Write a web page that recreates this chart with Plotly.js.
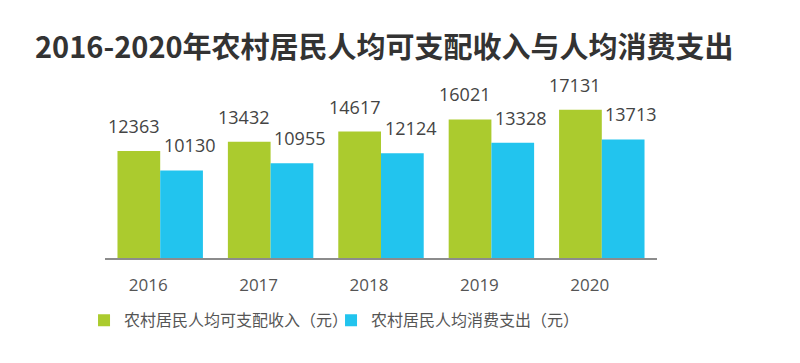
<!DOCTYPE html>
<html>
<head>
<meta charset="utf-8">
<script src="https://cdn.plot.ly/plotly-3.0.1.min.js"></script>
<style>html,body{margin:0;padding:0;background:#fff;}#chart{width:800px;height:363px;}</style>
</head>
<body>
<div id="chart"></div>
<script>
const years = ['2016', '2017', '2018', '2019', '2020'];
const income = [12363, 13432, 14617, 16021, 17131];
const spending = [10130, 10955, 12124, 13328, 13713];
const incomeName = '农村居民人均可支配收入（元）';
const spendingName = '农村居民人均消费支出（元）';
const titleText = '2016-2020年农村居民人均可支配收入与人均消费支出';

const green = '#ABCB2E';
const cyan = '#22C4EE';
const cjk = '"Noto Sans CJK SC", "Open Sans", sans-serif';
const num = '"Open Sans", "Noto Sans", sans-serif';

const traces = [
  {type: 'bar', x: years, y: income, name: incomeName, marker: {color: green}, hoverinfo: 'skip'},
  {type: 'bar', x: years, y: spending, name: spendingName, marker: {color: cyan}, hoverinfo: 'skip'}
];

// On a category axis, annotation x is given as the category index
const annotations = [];
years.forEach((yr, i) => {
  annotations.push({x: i, y: income[i], xref: 'x', yref: 'y', text: String(income[i]),
    showarrow: false, yanchor: 'bottom', xanchor: 'center', xshift: -27, yshift: 11,
    font: {family: num, size: 18, color: '#444444'}});
  annotations.push({x: i, y: spending[i], xref: 'x', yref: 'y', text: String(spending[i]),
    showarrow: false, yanchor: 'bottom', xanchor: 'center', xshift: 29, yshift: 11,
    font: {family: num, size: 18, color: '#444444'}});
});

const layout = {
  width: 800, height: 363,
  margin: {l: 105, r: 143, t: 85, b: 105},
  paper_bgcolor: '#ffffff', plot_bgcolor: '#ffffff',
  title: {text: '<b>' + titleText + '</b>', x: 35/800, xanchor: 'left', y: 1 - 48/363, yanchor: 'middle',
    font: {family: cjk, size: 29, color: '#333333'}},
  barmode: 'group',
  bargap: 0.226,
  bargroupgap: 0,
  xaxis: {type: 'category', range: [-0.5, 4.5], showgrid: false, zeroline: false,
    showline: true, linecolor: '#8c8c8c', linewidth: 1.5, ticks: '',
    ticklabelstandoff: 11, ticklabelshift: -12,
    tickfont: {family: num, size: 17, color: '#555555'}},
  yaxis: {range: [0, 20000], showticklabels: false, showgrid: false, zeroline: false, showline: false, ticks: ''},
  showlegend: true,
  legend: {orientation: 'h', x: -0.038, xanchor: 'left', y: -0.36, yanchor: 'middle',
    font: {family: cjk, size: 16, color: '#555555'}, itemwidth: 30, entrywidth: 202, traceorder: 'normal'},
  annotations: annotations
};

Plotly.newPlot('chart', traces, layout, {staticPlot: true, displayModeBar: false});
</script>
</body>
</html>
